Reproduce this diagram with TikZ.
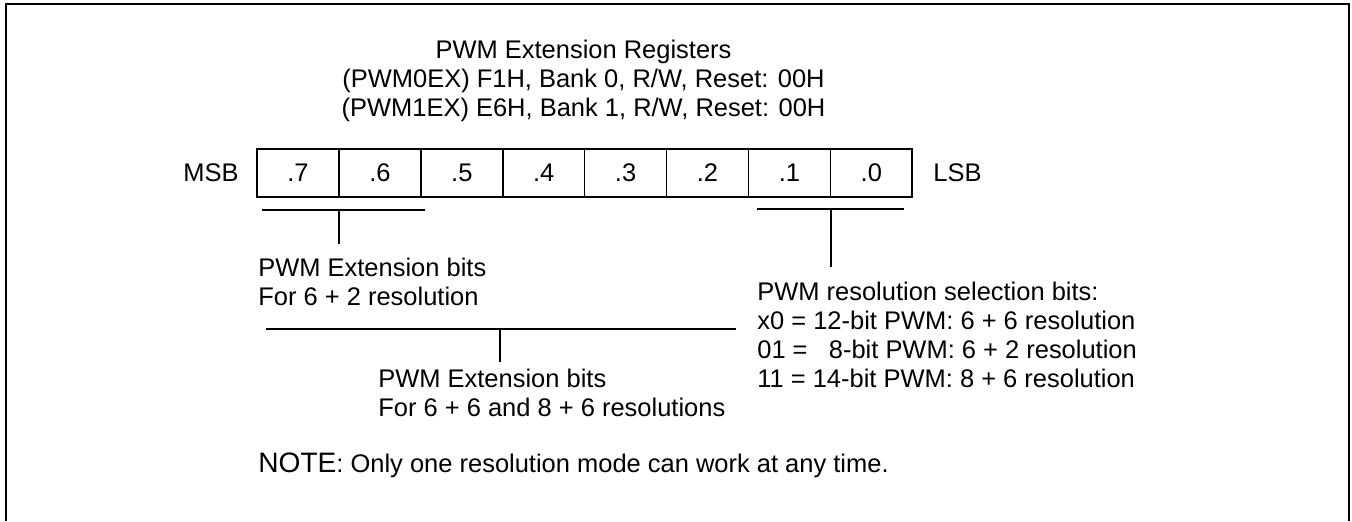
\documentclass[tikz,border=0pt]{standalone}
\usepackage{fontspec}
\setmainfont{Liberation Sans}
\usetikzlibrary{positioning}
\tikzset{
  regcell/.style={draw, line width=0.9pt, minimum width=1.638cm, minimum height=0.96cm, inner sep=0pt, font=\fontsize{14.5}{16.5}\selectfont},
  txt/.style={inner sep=0pt, align=left, font=\fontsize{14.5}{16.5}\selectfont},
  bar/.style={line width=1pt},
  frame/.style={line width=1.3pt},
}
\begin{document}
\begin{tikzpicture}[x=0.02cm, y=-0.02cm]
  \useasboundingbox (0,0) rectangle (1352,521);
  \draw[frame] (6,521) -- (6,4) -- (1349,4) -- (1349,521);
  % header
  \node[txt, align=center, anchor=north] (title) at (583.5,40) {PWM Extension Registers\\(PWM0EX) F1H, Bank 0, R/W, Reset: 00H\\(PWM1EX) E6H, Bank 1, R/W, Reset: 00H};
  % register bits
  \foreach \b [count=\k from 0] in {7,...,0}
    \node[regcell] (c\b) at (298+81.9*\k,173) {.\b};
  \node[txt, anchor=east] (msb) at (239,173) {MSB};
  \node[txt, anchor=west] (lsb) at (933,173) {LSB};
  % bits 7-6
  \coordinate (l1) at (262,210);
  \coordinate (l2) at (425,210);
  \coordinate (s1) at (339,244);
  \draw[bar] (l1) -- (l2);
  \draw[bar] (l1 -| s1) -- (s1);
  \node[txt, anchor=north west] (ext62) at (258,258) {PWM Extension bits\\For 6 + 2 resolution};
  % bits 7-2
  \coordinate (m1) at (266,329);
  \coordinate (m2) at (736,329);
  \coordinate (s2) at (500,362);
  \draw[bar] (m1) -- (m2);
  \draw[bar] (m1 -| s2) -- (s2);
  \node[txt, anchor=north west] (ext66) at (378,369) {PWM Extension bits\\For 6 + 6 and 8 + 6 resolutions};
  % bits 1-0
  \coordinate (r1) at (757,209);
  \coordinate (r2) at (904,209);
  \coordinate (s3) at (831,267);
  \draw[bar] (r1) -- (r2);
  \draw[bar] (r1 -| s3) -- (s3);
  \node[txt, anchor=north west] (sel) at (757,282) {PWM resolution selection bits:\\x0 = 12-bit PWM: 6 + 6 resolution\\01 = \phantom{1}8-bit PWM: 6 + 2 resolution\\11 = 14-bit PWM: 8 + 6 resolution};
  % note
  \node[txt, anchor=north west] (note) at (258,453) {{\fontsize{16}{18}\selectfont NOTE}: Only one resolution mode can work at any time.};
\end{tikzpicture}
\end{document}
